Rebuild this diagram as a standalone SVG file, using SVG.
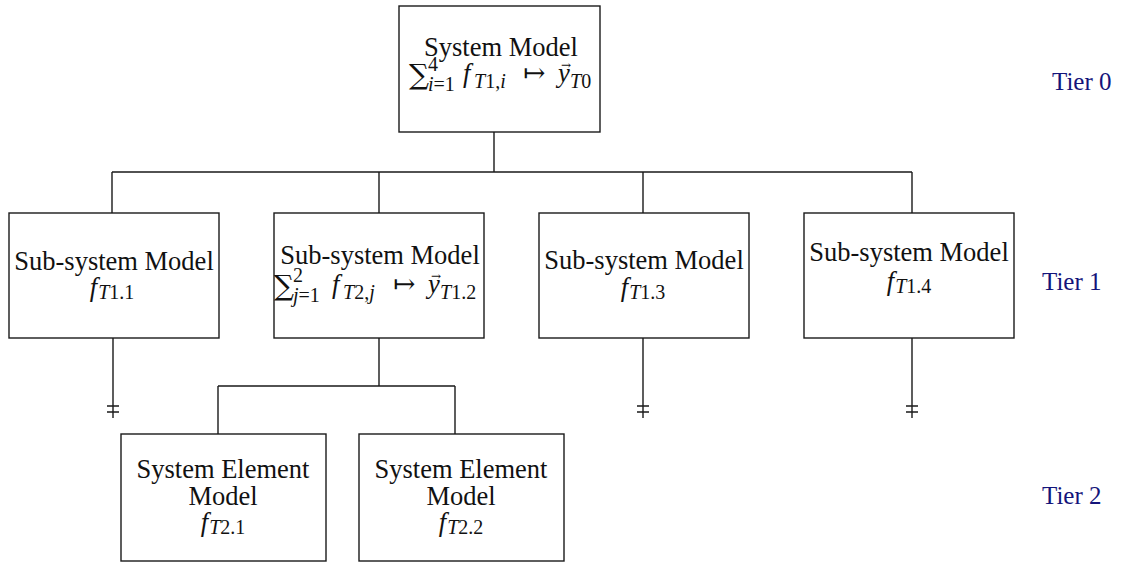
<svg xmlns="http://www.w3.org/2000/svg" width="1127" height="565" viewBox="0 0 1127 565">
  <style>
    .box { fill: #ffffff; stroke: #1a1a1a; stroke-width: 1.4; }
    .wire { fill: none; stroke: #1a1a1a; stroke-width: 1.4; }
    text { font-family: "Liberation Serif", "DejaVu Serif", serif; fill: #111111; }
    .lbl { font-size: 26.5px; }
    .ctr { text-anchor: middle; }
    .it { font-style: italic; }
    .scr { font-size: 20px; }
    .op { font-family: "DejaVu Serif", "Liberation Serif", serif; }
    .sum { font-size: 28px; }
    .vec { font-family: "DejaVu Serif", "Liberation Serif", serif; font-size: 12px; }
    .tier { font-size: 25px; fill: #14147a; }
  </style>

  <!-- tree connectors -->
  <g id="connectors" class="wire">
    <path d="M494 132 V172 M112 172 H912 M112 172 V213 M379 172 V213 M643 172 V213 M912 172 V213"/>
    <path d="M379 338 V386 M218 386 H455 M218 386 V434 M455 386 V434"/>
    <!-- open-ended links with break marks -->
    <path d="M113 338 V418 M107 406 H119 M107 412 H119"/>
    <path d="M643 338 V418 M637 406 H649 M637 412 H649"/>
    <path d="M912 338 V418 M906 406 H918 M906 412 H918"/>
  </g>

  <!-- Tier 0 -->
  <g id="system-model">
    <rect class="box" x="399" y="6" width="201" height="126"/>
    <text class="lbl ctr" x="501" y="56">System Model</text>
    <text class="op sum" x="409" y="84">∑</text>
    <text class="scr" x="428" y="71">4</text>
    <text class="scr" x="428" y="91"><tspan class="it">i</tspan>=1</text>
    <text class="lbl it" x="463" y="82">f</text>
    <text class="scr" x="474" y="88"><tspan class="it">T</tspan>1,<tspan class="it">i</tspan></text>
    <text class="lbl op" x="523" y="82">↦</text>
    <text class="lbl it" x="558" y="82">y</text>
    <text class="vec" x="561" y="69">→</text>
    <text class="scr" x="570" y="88"><tspan class="it">T</tspan>0</text>
  </g>

  <!-- Tier 1 -->
  <g id="subsystem-1">
    <rect class="box" x="9" y="213" width="210" height="125"/>
    <text class="lbl ctr" x="114" y="270">Sub-system Model</text>
    <text class="lbl ctr" x="112" y="296"><tspan class="it">f</tspan><tspan class="scr it" dx="1" dy="3">T</tspan><tspan class="scr">1.1</tspan></text>
  </g>

  <g id="subsystem-2">
    <rect class="box" x="274" y="213" width="210" height="125"/>
    <text class="lbl ctr" x="380" y="264">Sub-system Model</text>
    <text class="op sum" x="274" y="295">∑</text>
    <text class="scr" x="293" y="282">2</text>
    <text class="scr" x="293" y="302"><tspan class="it">j</tspan>=1</text>
    <text class="lbl it" x="332" y="293">f</text>
    <text class="scr" x="343" y="299"><tspan class="it">T</tspan>2,<tspan class="it">j</tspan></text>
    <text class="lbl op" x="393" y="293">↦</text>
    <text class="lbl it" x="428" y="293">y</text>
    <text class="vec" x="431" y="280">→</text>
    <text class="scr" x="440" y="299"><tspan class="it">T</tspan>1.2</text>
  </g>

  <g id="subsystem-3">
    <rect class="box" x="539" y="213" width="210" height="125"/>
    <text class="lbl ctr" x="644" y="269">Sub-system Model</text>
    <text class="lbl ctr" x="643" y="296"><tspan class="it">f</tspan><tspan class="scr it" dx="1" dy="3">T</tspan><tspan class="scr">1.3</tspan></text>
  </g>

  <g id="subsystem-4">
    <rect class="box" x="804" y="213" width="210" height="125"/>
    <text class="lbl ctr" x="909" y="261">Sub-system Model</text>
    <text class="lbl ctr" x="909" y="290"><tspan class="it">f</tspan><tspan class="scr it" dx="1" dy="3">T</tspan><tspan class="scr">1.4</tspan></text>
  </g>

  <!-- Tier 2 -->
  <g id="element-1">
    <rect class="box" x="121" y="434" width="205" height="127"/>
    <text class="lbl ctr" x="223" y="478">System Element</text>
    <text class="lbl ctr" x="223" y="505">Model</text>
    <text class="lbl ctr" x="223" y="531"><tspan class="it">f</tspan><tspan class="scr it" dx="1" dy="3">T</tspan><tspan class="scr">2.1</tspan></text>
  </g>

  <g id="element-2">
    <rect class="box" x="359" y="434" width="205" height="127"/>
    <text class="lbl ctr" x="461" y="478">System Element</text>
    <text class="lbl ctr" x="461" y="505">Model</text>
    <text class="lbl ctr" x="461" y="531"><tspan class="it">f</tspan><tspan class="scr it" dx="1" dy="3">T</tspan><tspan class="scr">2.2</tspan></text>
  </g>

  <!-- tier captions -->
  <g id="tier-labels">
    <text class="tier" x="1052" y="90">Tier 0</text>
    <text class="tier" x="1042" y="290">Tier 1</text>
    <text class="tier" x="1042" y="504">Tier 2</text>
  </g>
</svg>
